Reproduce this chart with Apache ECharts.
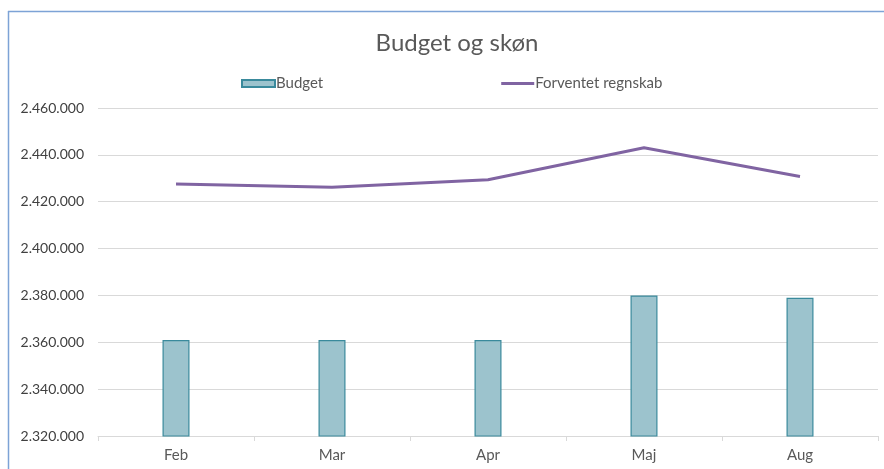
<!DOCTYPE html>
<html><head><meta charset="utf-8">
<script src="https://cdn.jsdelivr.net/npm/echarts@6/dist/echarts.min.js"></script>
<style>html,body{margin:0;padding:0;background:#fff}#c{width:884px;height:469px}</style>
</head><body><div id="c"></div>
<script>
const categories = ['Feb', 'Mar', 'Apr', 'Maj', 'Aug'];
const budget = [2361000, 2361000, 2361000, 2380000, 2379000];
const forventet = [2427600, 2426200, 2429400, 2443000, 2430800];
const yTicks = [2320000, 2340000, 2360000, 2380000, 2400000, 2420000, 2440000, 2460000];

function fmt(v) { return String(Math.round(v)).replace(/\B(?=(\d{3})+(?!\d))/g, '.'); }

const chart = echarts.init(document.getElementById('c'));
const FONT = 'Lato, "Open Sans", sans-serif';
chart.setOption({
  animation: false,
  textStyle: { fontFamily: FONT },
  graphic: [
    { type: 'line', shape: { x1: 8.5, y1: 11, x2: 8.5, y2: 469 }, style: { stroke: '#7da3d6', lineWidth: 1.5 } },
    { type: 'line', shape: { x1: 8, y1: 11.5, x2: 884, y2: 11.5 }, style: { stroke: '#7da3d6', lineWidth: 1.5 } }
  ],
  title: {
    text: 'Budget og skøn', left: 452, textAlign: 'center', top: 26,
    textStyle: { fontSize: 24, fontWeight: 'normal', color: '#595959', fontFamily: FONT }
  },
  legend: {
    left: 236, top: 71, itemGap: 178, itemWidth: 33, itemHeight: 7,
    textStyle: { fontSize: 15, color: '#595959', padding: [0, 0, 0, -4] },
    data: [
      { name: 'Budget', icon: 'rect' },
      { name: 'Forventet regnskab', icon: 'path://M0,0 L0.01,0 L0.01,7 L0,7 Z M0,2 L34,2 L34,5 L0,5 Z' }
    ]
  },
  grid: { left: 98, right: 6, top: 108, bottom: 33 },
  xAxis: {
    type: 'category', data: categories,
    axisLine: { lineStyle: { color: '#d9d9d9', width: 1 } },
    axisTick: { show: true, length: 5, lineStyle: { color: '#d9d9d9' } },
    axisLabel: { color: '#595959', fontSize: 15, margin: 12 }
  },
  yAxis: {
    type: 'value', min: yTicks[0], max: yTicks[yTicks.length - 1], interval: 20000,
    axisLine: { show: false }, axisTick: { show: false },
    splitLine: { lineStyle: { color: '#d9d9d9', width: 1 } },
    axisLabel: { color: '#404040', fontSize: 14, margin: 14, formatter: fmt }
  },
  series: [
    {
      name: 'Budget', type: 'bar', data: budget, barWidth: 27,
      itemStyle: { color: '#9cc3cd', borderColor: '#3a8a9c', borderWidth: 1.2 }
    },
    {
      name: 'Forventet regnskab', type: 'line', data: forventet,
      symbol: 'none', lineStyle: { color: '#8064a2', width: 3 }, itemStyle: { color: '#8064a2' }
    }
  ]
});
</script></body></html>
